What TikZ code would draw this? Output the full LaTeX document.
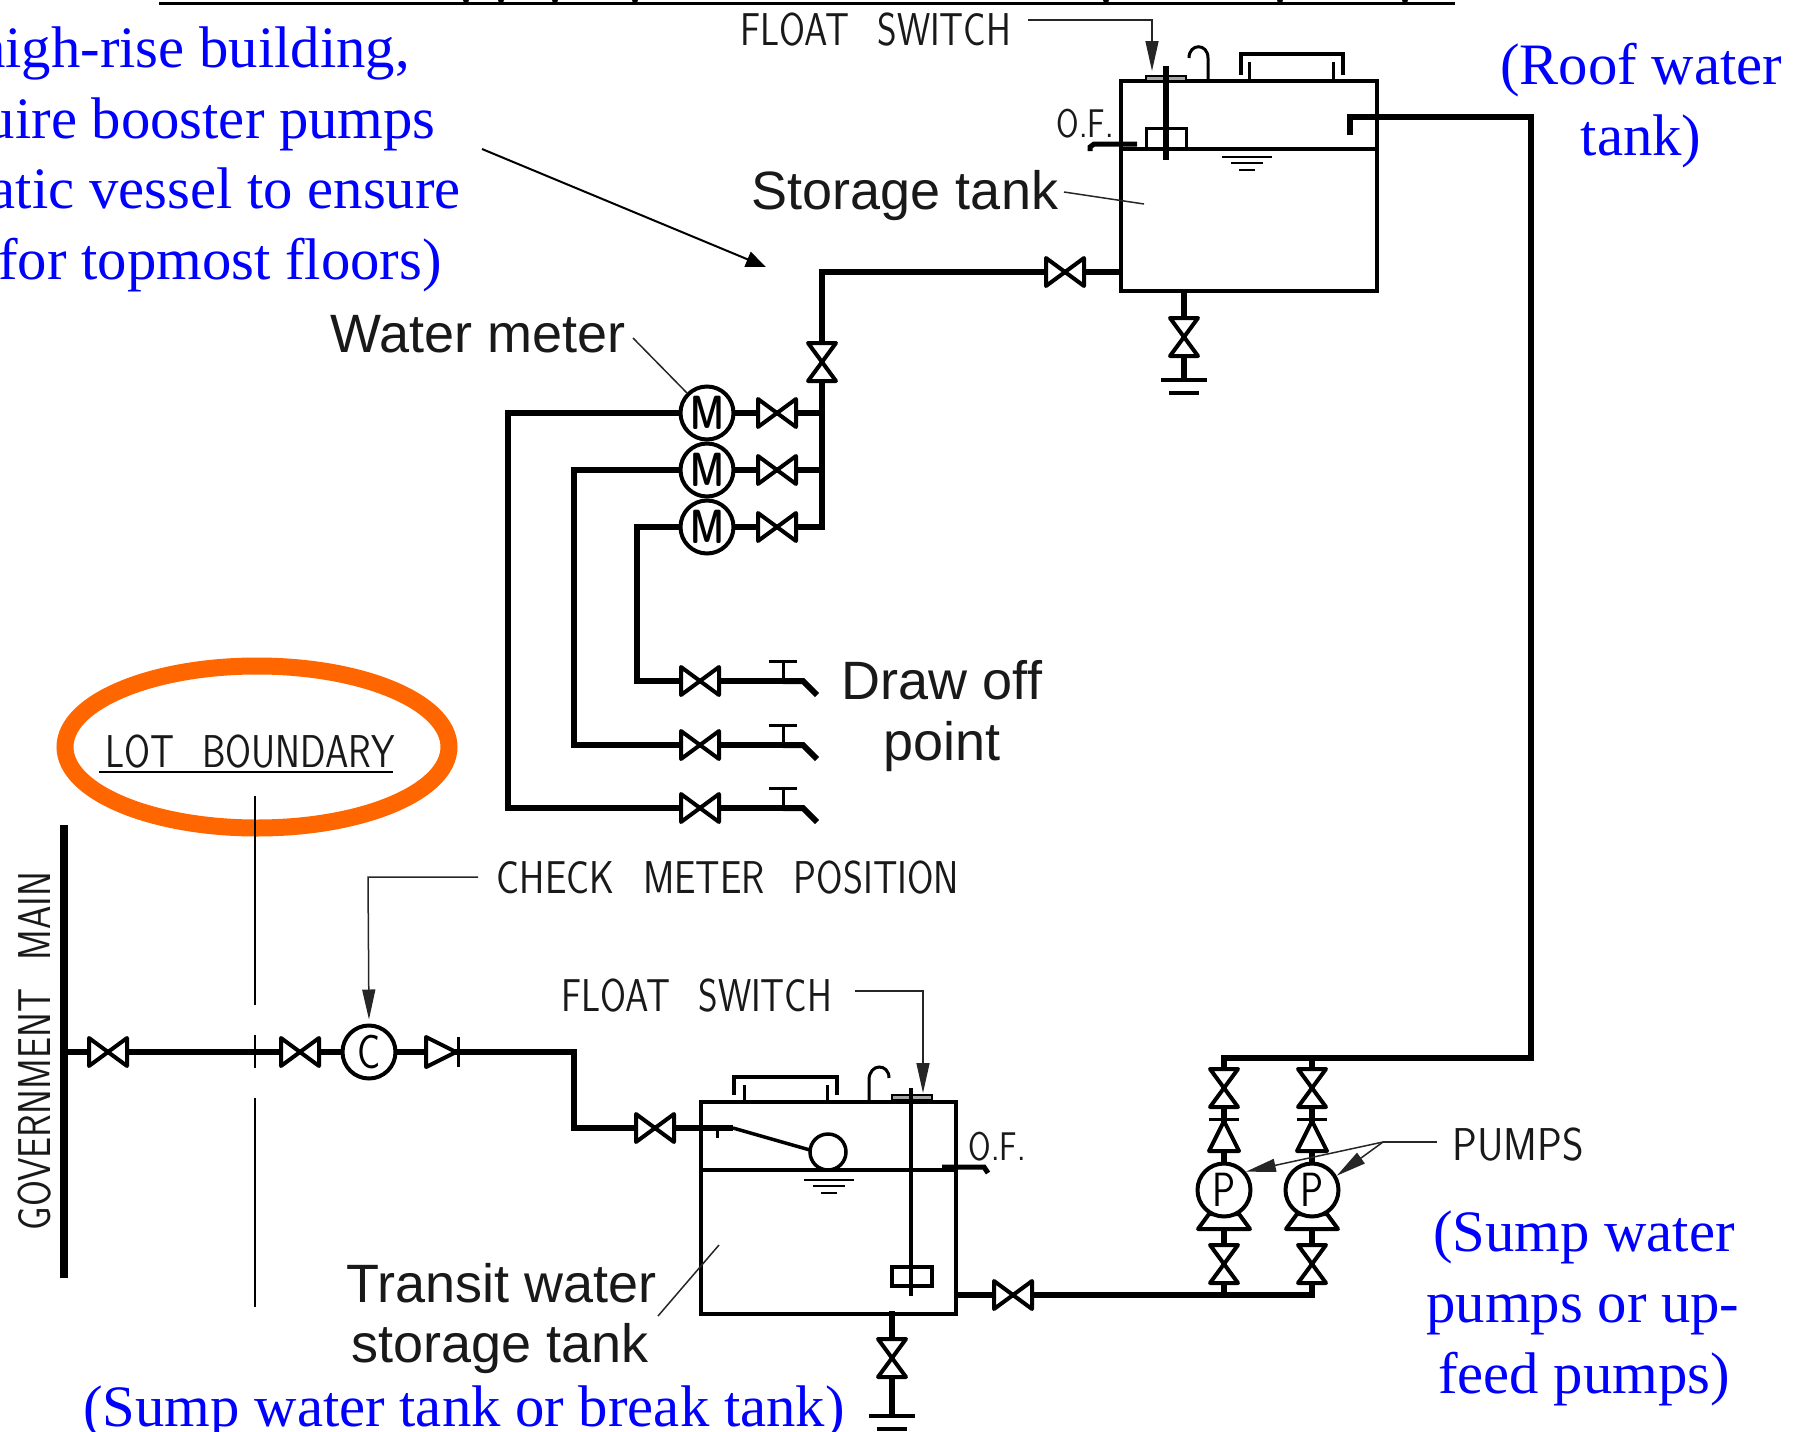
\documentclass[tikz,border=0pt]{standalone}
\usepackage{fontspec}
\usetikzlibrary{arrows.meta}
\setmainfont{Liberation Serif}
\newfontfamily\helvfont{Liberation Sans}
\newcommand{\cadtext}[1]{\scalebox{.815}[1]{\spaceskip=.75em\relax #1}}
\definecolor{ringorange}{RGB}{255,102,0}
\tikzset{
pipe/.style={line width=6pt, line join=miter},
tankline/.style={line width=4pt},
thinpipe/.style={line width=3.5pt},
leader/.style={line width=1.5pt, black!85},
arrowleader/.style={leader, -{Triangle[length=30pt,width=13pt]}},
bluelabel/.style={font=\fontsize{58.7}{58.7}\selectfont, text=blue, anchor=base, inner sep=0pt},
blacklabel/.style={font=\helvfont\fontsize{54}{54}\selectfont, anchor=base, inner sep=0pt, black!90},
cadlabel/.style={font=\sffamily\fontsize{46}{46}\selectfont, anchor=base, inner sep=0pt, black!90},
smallcad/.style={font=\sffamily\fontsize{40}{40}\selectfont, anchor=base, inner sep=0pt, black!90},
meter/.style={circle, draw, fill=white, line width=4pt, minimum size=53pt, inner sep=0pt, font=\sffamily\fontsize{48}{48}\selectfont},
tank/.style={rectangle, draw, line width=4pt, inner sep=0pt},
valve/.pic={\draw[line width=4pt, fill=white, line join=round] (-19,-14) -- (0,0) -- (-19,14) -- cycle;
\draw[line width=4pt, fill=white, line join=round] (19,-14) -- (0,0) -- (19,14) -- cycle;},
checkvalve/.pic={\draw[line width=4pt, fill=white, line join=round] (-16,-15) -- (14,0) -- (-16,15) -- cycle;
\draw[line width=3pt] (16,-15) -- (16,15);},
levelmark/.pic={\draw[line width=2pt] (-25,0) -- (25,0);
\draw[line width=2pt] (-16,6) -- (16,6);
\draw[line width=2pt] (-8,13) -- (8,13);},
earthmark/.pic={\draw[line width=3.5pt] (-23,0) -- (23,0);
\draw[line width=3.5pt] (-15,13) -- (15,13);},
tap/.pic={\draw[pipe] (0,0) -- (20,0) -- (34,14);
\draw[line width=3pt] (0,0) -- (0,-20);
\draw[line width=3pt] (-14,-20) -- (14,-20);},
pumpbase/.pic={\draw[line width=4pt, fill=white, line join=round] (-15,-8) -- (15,-8) -- (26,7) -- (-26,7) -- cycle;}
}
\begin{document}
\begin{tikzpicture}[x=1pt,y=-1pt]
\useasboundingbox (0,0) rectangle (1805,1432);
\clip (0,0) rectangle (1805,1432);
\draw[line width=2.5pt] (159,3.5) -- (1455,3.5);
\draw[fill=black] (466,-0.5) circle (3);
\draw[fill=black] (501,-0.5) circle (3);
\draw[fill=black] (555,-0.5) circle (3);
\draw[fill=black] (635,-0.5) circle (3);
\draw[fill=black] (1106,-0.5) circle (3);
\draw[fill=black] (1280,-0.5) circle (3);
\draw[fill=black] (1405,-0.5) circle (3);
\coordinate (govtop) at (64,825);
\coordinate (govbot) at (64,1278);
\coordinate (govtee) at (64,1052);
\coordinate (bendA) at (574,1052);
\coordinate (bendB) at (574,1128);
\coordinate (floatarm) at (733,1128);
\coordinate (sumpout) at (956,1295);
\coordinate (pumpbotB) at (1312,1295);
\coordinate (pumpbotA) at (1224,1295);
\coordinate (pumptopA) at (1224,1058);
\coordinate (pumptopB) at (1312,1058);
\coordinate (risercorner) at (1531,1058);
\coordinate (roofcorner) at (1531,117);
\coordinate (roofhook) at (1350,117);
\coordinate (roofhookend) at (1350,135);
\coordinate (roofin) at (1121,272);
\coordinate (feedcorner) at (822,272);
\coordinate (feedbot) at (822,527);
\coordinate (feedA) at (822,413);
\coordinate (feedB) at (822,470);
\coordinate (cornerA) at (508,413);
\coordinate (cornerB) at (574,470);
\coordinate (cornerC) at (637,527);
\coordinate (tapleftA) at (508,808);
\coordinate (tapleftB) at (574,745);
\coordinate (tapleftC) at (637,681);
\coordinate (tapA) at (783,808);
\coordinate (tapB) at (783,745);
\coordinate (tapC) at (783,681);
\coordinate (roofdrain) at (1184,291);
\coordinate (roofearth) at (1184,380);
\coordinate (sumpdrain) at (892,1311);
\coordinate (sumpearth) at (892,1416);
\draw[ringorange, line width=17pt] (257,747) ellipse (192 and 81);
\draw[line width=2pt] (254.5,796) -- (254.5,1005);
\draw[line width=2pt] (254.5,1035) -- (254.5,1068);
\draw[line width=2pt] (254.5,1098) -- (254.5,1307);
\draw[line width=8pt] (govtop) -- (govbot);
\node[tank, minimum width=256pt, minimum height=210pt] (rooftank) at (1249,186) {};
\node[tank, minimum width=255pt, minimum height=212pt] (sumptank) at (828.5,1208) {};
\draw[tankline] (rooftank.west |- 0,148.5) -- (rooftank.east |- 0,148.5);
\draw[tankline] (sumptank.west |- 0,1170) -- (sumptank.east |- 0,1170);
\draw[pipe] (govtee) -- (bendA) -- (bendB) -- (floatarm);
\draw[thinpipe] (floatarm) -- (810,1150);
\draw[line width=3pt] (717,1128) -- (717,1138);
\draw[pipe] (sumpout) -- (pumpbotB) -- (pumptopB);
\draw[pipe] (pumpbotA) -- (pumptopA) -- (risercorner) -- (roofcorner) -- (roofhook) -- (roofhookend);
\draw[pipe] (roofin) -- (feedcorner) -- (feedbot) -- (cornerC) -- (tapleftC) -- (tapC);
\draw[pipe] (feedB) -- (cornerB) -- (tapleftB) -- (tapB);
\draw[pipe] (feedA) -- (cornerA) -- (tapleftA) -- (tapA);
\draw[pipe] (roofdrain) -- (roofearth);
\draw[pipe] (sumpdrain) -- (sumpearth);
\draw[line width=5pt] (1090,151) -- (1090,147) -- (1094,144) -- (1137,144);
\draw[line width=5pt] (942,1167) -- (984,1167) -- (988,1173);
\pic at (tapA) {tap};
\pic at (tapB) {tap};
\pic at (tapC) {tap};
\pic at (1065,272) {valve};
\pic[rotate=90] at (822,362) {valve};
\pic[rotate=90] at (1184,337) {valve};
\pic at (777,413) {valve};
\pic at (777,470) {valve};
\pic at (777,527) {valve};
\pic at (700,681) {valve};
\pic at (700,745) {valve};
\pic at (700,808) {valve};
\pic at (108,1052) {valve};
\pic at (300,1052) {valve};
\pic at (442,1052) {checkvalve};
\pic at (655,1128) {valve};
\pic at (1013,1295) {valve};
\pic[rotate=90] at (892,1358) {valve};
\pic[rotate=90] at (1224,1088) {valve};
\pic[rotate=90] at (1312,1088) {valve};
\pic[rotate=90] at (1224,1135) {checkvalve};
\pic[rotate=90] at (1312,1135) {checkvalve};
\pic[rotate=90] at (1224,1264) {valve};
\pic[rotate=90] at (1312,1264) {valve};
\pic at (1224,1222) {pumpbase};
\pic at (1312,1222) {pumpbase};
\pic at (roofearth) {earthmark};
\pic at (sumpearth) {earthmark};
\pic at (1247,157) {levelmark};
\pic at (829,1180) {levelmark};
\node[meter] (meterA) at (707,413) {\scalebox{.72}[1]{\bfseries M}};
\node[meter] (meterB) at (707,470) {\scalebox{.72}[1]{\bfseries M}};
\node[meter] (meterC) at (707,527) {\scalebox{.72}[1]{\bfseries M}};
\node[meter] (checkmeter) at (369,1052) {\scalebox{.8}[1]{C}};
\node[meter] (pumpA) at (1224,1190) {\scalebox{.8}[1]{P}};
\node[meter] (pumpB) at (1312,1190) {\scalebox{.8}[1]{P}};
\draw[line width=3.5pt, fill=white] (828,1152) circle (18);
\draw[line width=2.5pt, fill=black!35] (1146,76) rectangle (1186,81);
\draw[line width=3pt] (1146,148) -- (1146,128) -- (1186,128) -- (1186,148);
\draw[line width=5.5pt] (1166,66) -- (1166,160);
\draw[line width=3pt] (1208,81) -- (1208,58) .. controls (1208,43) and (1189,43) .. (1189,58);
\draw[line width=3.5pt] (1241,75) -- (1241,54) -- (1343,54) -- (1343,75);
\draw[line width=3pt] (1249,81) -- (1249,62);
\draw[line width=3pt] (1333,81) -- (1333,62);
\draw[line width=2.5pt, fill=black!35] (892,1095) rectangle (932,1100);
\draw[line width=3.5pt] (911,1088) -- (911,1296);
\draw[line width=3.5pt] (892,1267) rectangle (932,1286);
\draw[line width=3pt] (869,1102) -- (869,1080) .. controls (869,1063) and (889,1063) .. (889,1078);
\draw[line width=3.5pt] (734,1095) -- (734,1077) -- (837,1077) -- (837,1095);
\draw[line width=3pt] (744,1102) -- (744,1085);
\draw[line width=3pt] (827,1102) -- (827,1085);
\node[cadlabel] (floattop) at (876,45) {\cadtext{FLOAT SWITCH}};
\node[cadlabel] (floatlow) at (697,1011) {\cadtext{FLOAT SWITCH}};
\node[cadlabel] (lotlabel) at (250,767) {\cadtext{LOT BOUNDARY}};
\node[cadlabel] (checklabel) at (728,893) {\scalebox{1.02}[1]{\cadtext{CHECK METER POSITION}}};
\node[cadlabel] (pumpslabel) at (1518,1160) {\scalebox{1.1}[1]{\cadtext{PUMPS}}};
\node[cadlabel, rotate=90] (govlabel) at (50,1051) {\cadtext{GOVERNMENT MAIN}};
\node[smallcad] (ofroof) at (1085,137) {\cadtext{O.F.}};
\node[smallcad] (ofsump) at (997,1160) {\cadtext{O.F.}};
\draw[line width=2pt] (99,772) -- (393,772);
\node[blacklabel] (storagelabel) at (905,209.5) {Storage tank};
\node[blacklabel] (meterlabel) at (478,352.5) {Water meter};
\node[blacklabel] (drawlabel) at (942,699.5) {Draw off};
\node[blacklabel] (pointlabel) at (942,760.5) {point};
\node[blacklabel] (transitlabel) at (502,1302) {Transit water};
\node[blacklabel] (stlabel) at (500,1362.5) {storage tank};
\node[bluelabel, anchor=base east] (highlabel) at (410,67) {high-rise building,};
\node[bluelabel, anchor=base east] (uirelabel) at (436,138) {uire booster pumps};
\node[bluelabel, anchor=base east] (aticlabel) at (461,208) {atic vessel to ensure};
\node[bluelabel, anchor=base east] (forlabel) at (442,279) {for topmost floors)};
\node[bluelabel] (rooflabel) at (1641,84) {(Roof water};
\node[bluelabel] (rtanklabel) at (1641,155) {tank)};
\node[bluelabel] (sumplabel) at (1584,1251) {(Sump water};
\node[bluelabel] (feedlabel) at (1583,1322) {pumps or up-};
\node[bluelabel] (feedlabelb) at (1584,1393) {feed pumps)};
\node[bluelabel] (breaklabel) at (464,1426) {(Sump water tank or break tank)};
\coordinate (floatelbow) at (1152,20);
\coordinate (floatend) at (1028,20);
\coordinate (sumpelbow) at (923,991);
\coordinate (sumpfloatend) at (855,991);
\coordinate (checkelbow) at (368,877);
\coordinate (checkend) at (478,877);
\coordinate (pumpelbow) at (1383,1142);
\coordinate (pumpend) at (1437,1142);
\draw[arrowleader] (floatend) -- (floatelbow) -- (1152,71);
\draw[arrowleader] (sumpfloatend) -- (sumpelbow) -- (923,1093);
\draw[arrowleader, shorten >=4pt] (checkend) -- (checkelbow) -- (checkmeter.north);
\draw[leader] (pumpend) -- (pumpelbow);
\draw[arrowleader] (pumpelbow) -- (pumpA.40);
\draw[arrowleader] (pumpelbow) -- (pumpB.30);
\draw[leader] (633,338) -- (meterA.north west);
\draw[leader] (1064,192) -- (1144,204);
\draw[leader] (719,1245) -- (658,1316);
\draw[line width=2pt, -{Triangle[length=20pt,width=16pt]}] (482,149) -- (766,267);
\end{tikzpicture}
\end{document}
